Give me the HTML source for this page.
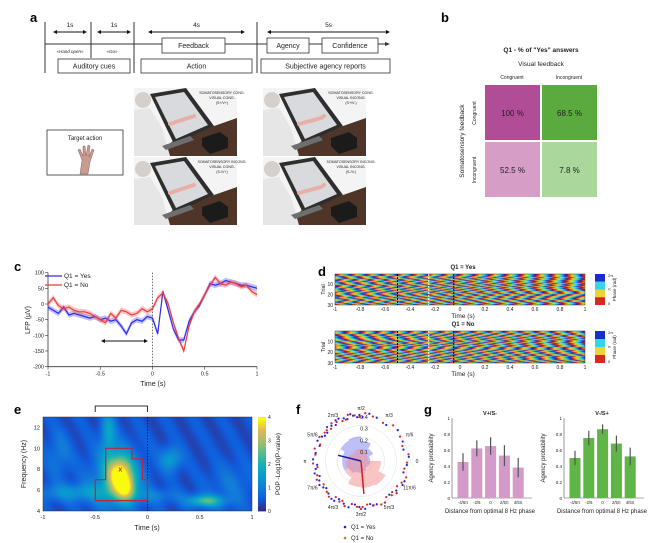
<!DOCTYPE html>
<html><head><meta charset="utf-8">
<style>
body{margin:0;background:#fff;}
#root{position:relative;width:660px;height:543px;overflow:hidden;font-family:"Liberation Sans",sans-serif;}
svg{position:absolute;left:0;top:0;}
canvas{position:absolute;}
text{font-family:"Liberation Sans",sans-serif;}
</style></head>
<body>
<div id="root">
<canvas id="rasterYes" width="250" height="31" style="left:335px;top:274px;width:250px;height:31px"></canvas>
<canvas id="rasterNo" width="250" height="32" style="left:335px;top:331px;width:250px;height:32px"></canvas>
<canvas id="heat" width="209" height="94" style="left:43px;top:417px;width:209px;height:94px"></canvas>
<svg id="fig" width="660" height="543" viewBox="0 0 660 543"></svg>
</div>
<script>
// ---------- data ----------
const lfpTimes=[-1,-0.95,-0.9,-0.85,-0.8,-0.75,-0.7,-0.65,-0.6,-0.55,-0.5,-0.45,-0.4,-0.35,-0.3,-0.25,-0.2,-0.15,-0.1,-0.05,0,0.05,0.1,0.15,0.2,0.25,0.3,0.35,0.4,0.45,0.5,0.55,0.6,0.65,0.7,0.75,0.8,0.85,0.9,0.95,1];
const lfpYes=[-10,-20,-30,-10,-35,-30,-35,-40,-45,-40,-50,-45,-55,-50,-70,-95,-60,-50,-55,-40,-45,-95,40,-20,-80,-115,-115,-55,-25,-5,30,65,60,65,75,70,65,60,60,55,50];
const lfpNo=[0,20,-5,-15,-10,-20,-25,-25,-30,-40,-50,-60,-30,-45,-20,-25,-35,-30,-15,-25,-15,20,35,0,-60,-110,-150,-70,-25,0,30,60,85,65,60,70,65,55,60,40,30];
const lfpTicksX=[-1,-0.5,0,0.5,1];
const lfpTicksY=[100,50,0,-50,-100,-150,-200];
const trialOffsetsYes=[0.3,2.1,4.0,1.2,5.5,3.3,0.8,2.9,4.6,1.7,6.0,3.8,0.5,2.4,5.1,1.0,3.6,4.9,2.2,0.1,5.8,3.0,1.5,4.3,2.7,0.9,5.3,3.9,1.9,4.5];
const trialOffsetsNo=[1.1,3.4,5.2,0.4,2.6,4.8,1.9,3.1,0.7,5.6,2.3,4.1,0.2,3.7,5.9,1.4,2.9,4.4,0.9,3.3,5.0,1.6,2.5,4.7,0.6,3.9,5.4,2.0,1.3,4.2];
const trialDriftYes=[0.5,-0.8,1.2,-0.3,0.9,-1.1,0.4,-0.6,1.0,-0.2,0.7,-0.9,0.3,-0.5,1.1,-0.7,0.2,-1.0,0.8,-0.4,0.6,-0.8,1.2,-0.1,0.5,-0.6,0.9,-0.3,0.4,-1.0];
const trialDriftNo=[-0.6,0.9,-0.2,1.1,-0.8,0.4,-1.0,0.7,-0.3,0.5,-0.9,1.2,-0.4,0.6,-0.7,0.3,-1.1,0.8,-0.5,1.0,-0.2,0.6,-0.9,0.4,-0.6,1.1,-0.3,0.7,-0.8,0.2];
const heatBlobT=[-0.27,-0.2,-0.3,-0.38,0.55,0.22,-0.7,0.05,-0.85,0.8];
const heatBlobF=[7.5,6.2,7.2,11.5,5.0,9.0,5.8,5.5,9.5,6.5];
const heatBlobSt=[0.08,0.06,0.16,0.05,0.12,0.07,0.25,0.2,0.08,0.15];
const heatBlobSf=[1.2,0.8,2.0,1.6,0.4,0.8,0.6,0.5,1.5,1.5];
const heatBlobA=[0.75,0.45,0.35,0.3,0.5,0.3,0.25,0.15,0.15,0.12];
const roseBins=[15,45,75,105,135,165,195,225,255,285,315,345];
const roseYes=[0.08,0.12,0.17,0.21,0.2,0.16,0.16,0.12,0.1,0.09,0.07,0.08];
const roseNo=[0.06,0.07,0.1,0.1,0.09,0.11,0.13,0.16,0.22,0.23,0.24,0.17];
const meanYesAngle=166, meanYesLen=0.2;
const meanNoAngle=275, meanNoLen=0.28;
const dotsYes=[95,100,103,108,112,118,125,130,135,140,148,155,160,170,178,185,190,195,200,205,210,218,225,232,240,248,255,262,268,275,282,290,300,310,320,335,345,355,5,15,25,40,55,70,80,88,92,122,145,215,236,258,285,330];
const dotsNo=[92,98,106,115,122,128,133,142,150,158,172,183,188,198,203,212,222,228,235,242,250,258,265,270,278,286,295,305,312,318,325,332,340,350,358,8,20,32,48,60,75,85,110,138,165,245,272,300,315];
const gCats=["-4/5π","-2/5","0","2/5π","4/5π"];
const gLeftVals=[0.45,0.62,0.65,0.53,0.38];
const gLeftErr=[0.11,0.10,0.11,0.13,0.12];
const gRightVals=[0.50,0.75,0.86,0.68,0.52];
const gRightErr=[0.09,0.09,0.06,0.10,0.11];
const gTicksY=[0,0.2,0.4,0.6,0.8,1];
const bVals=[["100 %","68.5 %"],["52.5 %","7.8 %"]];

// ---------- helpers ----------
const NS="http://www.w3.org/2000/svg";
const svg=document.getElementById('fig');
function el(tag,attrs,parent){const e=document.createElementNS(NS,tag);for(const k in attrs)e.setAttribute(k,attrs[k]);(parent||svg).appendChild(e);return e;}
function txt(x,y,s,size,attrs,parent){const t=el('text',Object.assign({x:x,y:y,'font-size':size,fill:'#222'},attrs||{}),parent);t.textContent=s;return t;}

// ---------- panel letters ----------
[["a",30,22],["b",441,22],["c",14,271],["d",318,276],["e",14,414],["f",296,414],["g",424,414]].forEach(p=>{
 const t=txt(p[1],p[2],p[0],13,{'font-weight':'bold',fill:'#000'});
 
});

// ---------- panel a timeline ----------
const ga=el('g',{});
el('line',{x1:45,y1:44,x2:386,y2:44,stroke:'#333','stroke-width':1},ga);
el('path',{d:'M390 44 L385 42 L385 46 Z',fill:'#333'},ga);
[[45,22,73],[91,22,58],[134,22,73],[257,22,73]].forEach(v=>el('line',{x1:v[0],y1:v[1],x2:v[0],y2:v[2],stroke:'#333','stroke-width':1},ga));
[[53,87,"1s"],[97,131,"1s"],[148,245,"4s"],[267,390,"5s"]].forEach(a=>{
 el('line',{x1:a[0]+3,y1:32,x2:a[1]-3,y2:32,stroke:'#111','stroke-width':1},ga);
 el('path',{d:`M${a[0]} 32 L${a[0]+4} 30 L${a[0]+4} 34 Z`,fill:'#111'},ga);
 el('path',{d:`M${a[1]} 32 L${a[1]-4} 30 L${a[1]-4} 34 Z`,fill:'#111'},ga);
 txt((a[0]+a[1])/2,27,a[2],6.5,{'text-anchor':'middle'},ga);
});
[[162,38,225,53,"Feedback","feedback-box"],[267,38,309,53,"Agency","agency-box"],[322,38,378,53,"Confidence","confidence-box"],
 [58,59,130,73,"Auditory cues","auditory-cues-box"],[141,59,252,73,"Action","action-box"],[261,59,390,73,"Subjective agency reports","subjective-reports-box"]].forEach(b=>{
 const r=el('rect',{x:b[0],y:b[1],width:b[2]-b[0],height:b[3]-b[1],fill:'#fff',stroke:'#333','stroke-width':0.8},ga);
 
 txt((b[0]+b[2])/2,(b[1]+b[3])/2+2.5,b[4],7,{'text-anchor':'middle'},ga);
});
txt(70,53,"«Hand open»",4.5,{'text-anchor':'middle','font-style':'italic'},ga);
txt(112,53,"«Go»",4.5,{'text-anchor':'middle','font-style':'italic'},ga);

// target action box
const tb=el('rect',{x:47,y:130,width:76,height:45,fill:'#fff',stroke:'#333','stroke-width':0.8});

txt(85,140,"Target action",6,{'text-anchor':'middle'});
el('path',{d:'M80 174 L82 160 L78 150 L80 149 L83 156 L83 146 L85 146 L86 156 L88 145 L90 146 L89 157 L92 149 L94 150 L90 162 L88 174 Z',fill:'#c99a8f',stroke:'#7a4a44','stroke-width':0.4});

// scenes
const scenes=[[134,88,"SOMATOSENSORY CONG.","VISUAL CONG.","(S+/V+)",1],[263,88,"SOMATOSENSORY CONG.","VISUAL INCONG.","(S+/V-)",0],
 [134,157,"SOMATOSENSORY INCONG.","VISUAL CONG.","(S-/V+)",1],[263,157,"SOMATOSENSORY INCONG.","VISUAL INCONG.","(S-/V-)",0]];
scenes.forEach((s,i)=>{
 const g=el('g',{transform:`translate(${s[0]},${s[1]})`});
 
 el('rect',{x:0,y:0,width:103,height:68,fill:'#f4f4f4'},g);
 el('polygon',{points:'22,68 40,52 103,30 103,68',fill:'#4e3527'},g);
 el('polygon',{points:'0,22 16,20 28,40 36,68 0,68',fill:'#e6e6e6'},g);
 el('circle',{cx:9,cy:12,r:8,fill:'#d4d0ce'},g);
 el('polygon',{points:'16,6 52,0 80,38 40,56',fill:'#2e2e2e'},g);
 el('polygon',{points:'21,9 50,4 74,37 42,51',fill:'#d9dadd'},g);
 if(s[5]) el('path',{d:'M36 36 L60 28',stroke:'#e7b0a6','stroke-width':4,'stroke-linecap':'round'},g);
 else el('path',{d:'M36 36 L58 30 M58 30 l3 -2',stroke:'#e7b0a6','stroke-width':4,'stroke-linecap':'round'},g);
 el('polygon',{points:'28,58 56,48 60,52 32,62',fill:'#6e6e6e'},g);
 el('polygon',{points:'68,50 86,44 94,50 94,60 76,66 68,58',fill:'#1b1b1b'},g);
 txt(88,6,s[2],3.6,{'text-anchor':'middle'},g);
 txt(88,11,s[3],3.6,{'text-anchor':'middle'},g);
 txt(88,16,s[4],3.6,{'text-anchor':'middle'},g);
});

// ---------- panel b ----------
txt(541,52,'Q1 - % of "Yes" answers',6.5,{'text-anchor':'middle','font-weight':'bold'});
txt(541,66,'Visual feedback',6.5,{'text-anchor':'middle'});
txt(512,79,'Congruent',5,{'text-anchor':'middle'});
txt(569,79,'Incongruent',5,{'text-anchor':'middle'});
txt(464,141,'Somatosensory feedback',6.5,{'text-anchor':'middle',transform:'rotate(-90 464 141)'});
txt(476,113,'Congruent',5,{'text-anchor':'middle',transform:'rotate(-90 476 113)'});
txt(476,170,'Incongruent',5,{'text-anchor':'middle',transform:'rotate(-90 476 170)'});
const bCols=['#b14d96','#5aaa3e','#d69dc7','#a9d89a'];
for(let r=0;r<2;r++)for(let c=0;c<2;c++){
 const x=485+c*57,y=85+r*57;
 const rc=el('rect',{x:x,y:y,width:55,height:55,fill:bCols[r*2+c]});
 
 txt(x+27.5,y+31,bVals[r][c],8,{'text-anchor':'middle',fill:'#222'});
}

// ---------- panel c ----------
const xc=t=>48+(t+1)/2*209, yc=v=>304-v*94/300;
const gc=el('g',{});
el('line',{x1:48,y1:yc(100),x2:48,y2:yc(-200),stroke:'#333','stroke-width':0.8},gc);
el('line',{x1:48,y1:yc(-200),x2:257,y2:yc(-200),stroke:'#333','stroke-width':0.8},gc);
lfpTicksY.forEach(v=>{el('line',{x1:45,y1:yc(v),x2:48,y2:yc(v),stroke:'#333','stroke-width':0.6},gc);txt(44,yc(v)+2,String(v),5.5,{'text-anchor':'end'},gc);});
lfpTicksX.forEach(v=>{el('line',{x1:xc(v),y1:yc(-200),x2:xc(v),y2:yc(-200)+3,stroke:'#333','stroke-width':0.6},gc);txt(xc(v),yc(-200)+9,String(v),5.5,{'text-anchor':'middle'},gc);});
txt(153,386,'Time (s)',7,{'text-anchor':'middle'},gc);
txt(30,320,'LFP (µV)',7,{'text-anchor':'middle',transform:'rotate(-90 30 320)'},gc);
el('line',{x1:xc(0),y1:yc(100),x2:xc(0),y2:yc(-200),stroke:'#333','stroke-width':0.7,'stroke-dasharray':'1.5,1.5'},gc);
function series(vals,col,name){
 let up='',dn='',ln='';
 vals.forEach((v,i)=>{ln+=(i?'L':'M')+xc(lfpTimes[i]).toFixed(1)+' '+yc(v).toFixed(1);up+=(i?'L':'M')+xc(lfpTimes[i]).toFixed(1)+' '+yc(v+9).toFixed(1);});
 for(let i=vals.length-1;i>=0;i--)dn+='L'+xc(lfpTimes[i]).toFixed(1)+' '+yc(vals[i]-9).toFixed(1);
 const b=el('path',{d:up+dn+'Z',fill:col,opacity:0.3},gc);
 
 const l=el('path',{d:ln,fill:'none',stroke:col,'stroke-width':1.2},gc);
 
}
series(lfpYes,'#2b2bea','q1-yes');series(lfpNo,'#ee3b3b','q1-no');
el('line',{x1:45,y1:276,x2:62,y2:276,stroke:'#2b2bea','stroke-width':1.2},gc);txt(64,278,'Q1 = Yes',6.5,{},gc);
el('line',{x1:45,y1:285,x2:62,y2:285,stroke:'#ee3b3b','stroke-width':1.2},gc);txt(64,287,'Q1 = No',6.5,{},gc);
el('line',{x1:104,y1:341,x2:145,y2:341,stroke:'#111','stroke-width':1},gc);
el('path',{d:'M101 341 L105 339 L105 343 Z M148 341 L144 339 L144 343 Z',fill:'#111'},gc);

// ---------- panel d ----------
function phaseColor(p){
 const u=((p%(2*Math.PI))+2*Math.PI)%(2*Math.PI)/(2*Math.PI);
 const st=[[0,[200,20,20]],[0.12,[240,60,20]],[0.3,[240,220,30]],[0.45,[150,220,80]],[0.6,[40,220,230]],[0.75,[30,120,240]],[0.9,[20,30,200]],[1,[200,20,20]]];
 for(let i=0;i<st.length-1;i++)if(u<=st[i+1][0]){const f=(u-st[i][0])/(st[i+1][0]-st[i][0]);return st[i][1].map((c,k)=>Math.round(c+(st[i+1][1][k]-c)*f));}
 return st[0][1];
}
function drawRaster(id,offs,drifts){
 const cv=document.getElementById(id),ctx=cv.getContext('2d');const W=cv.width,H=cv.height;
 const img=ctx.createImageData(W,H);
 for(let y=0;y<H;y++){const tr=Math.min(29,Math.floor(y/H*30));
  for(let x=0;x<W;x++){const t=-1+2*x/W;const p=2*Math.PI*8*t+offs[tr]+drifts[tr]*t*1.5;const c=phaseColor(p);const k=(y*W+x)*4;img.data[k]=c[0];img.data[k+1]=c[1];img.data[k+2]=c[2];img.data[k+3]=255;}}
 ctx.putImageData(img,0,0);
}
drawRaster('rasterYes',trialOffsetsYes,trialDriftYes);drawRaster('rasterNo',trialOffsetsNo,trialDriftNo);
const xd=t=>335+(t+1)/2*250;
[[274,305,269,'Q1 = Yes','yes'],[331,363,326,'Q1 = No','no']].forEach(r=>{
 const g=el('g',{});
 txt(463,r[2],r[3],6,{'text-anchor':'middle','font-weight':'bold'},g);
 el('rect',{x:335,y:r[0],width:250,height:r[1]-r[0],fill:'none',stroke:'#333','stroke-width':0.5},g);
 [-1,-0.8,-0.6,-0.4,-0.2,0,0.2,0.4,0.6,0.8,1].forEach(v=>txt(xd(v),r[1]+6,String(v),5,{'text-anchor':'middle'},g));
 txt(463,r[1]+13,'Time (s)',6.5,{'text-anchor':'middle'},g);
 [[10,0.33],[20,0.66],[30,1]].forEach(q=>txt(333,r[0]+(r[1]-r[0])*q[1]+2,String(q[0]),5,{'text-anchor':'end'},g));
 txt(325,(r[0]+r[1])/2,'Trial',5.5,{'text-anchor':'middle',transform:`rotate(-90 325 ${(r[0]+r[1])/2})`},g);
 el('line',{x1:xd(-0.5),y1:r[0],x2:xd(-0.5),y2:r[1],stroke:'#000','stroke-width':1,'stroke-dasharray':'2,1'},g);
 el('line',{x1:xd(-0.05),y1:r[0],x2:xd(-0.05),y2:r[1],stroke:'#000','stroke-width':1,'stroke-dasharray':'2,1'},g);
 el('line',{x1:xd(-0.25),y1:r[0],x2:xd(-0.25),y2:r[1],stroke:'#fff','stroke-width':1,'stroke-dasharray':'2,1'},g);
 const h=r[1]-r[0];
 [['#1a2bd0',0],['#39d4e6',0.25],['#eed332',0.5],['#d42a1e',0.75]].forEach(c=>el('rect',{x:595,y:r[0]+h*c[1],width:10,height:h/4,fill:c[0]},g));
 txt(608,r[0]+3,'2π',4,{},g);txt(608,r[0]+h/2+1,'π',4,{},g);txt(608,r[1],'0',4,{},g);
 txt(616,(r[0]+r[1])/2,'Phase (rad)',4.5,{'text-anchor':'middle',transform:`rotate(-90 616 ${(r[0]+r[1])/2})`},g);
});

// ---------- panel e ----------
const parula=[[53,42,135],[15,92,221],[18,125,216],[7,156,207],[21,177,180],[89,189,140],[165,190,107],[225,185,82],[249,251,14]];
function parC(u){u=Math.max(0,Math.min(1,u))*8;const i=Math.min(7,Math.floor(u)),f=u-i;return parula[i].map((c,k)=>Math.round(c+(parula[i+1][k]-c)*f));}
(function(){
 const cv=document.getElementById('heat'),ctx=cv.getContext('2d');const W=cv.width,H=cv.height;const img=ctx.createImageData(W,H);
 for(let y=0;y<H;y++)for(let x=0;x<W;x++){
  const t=-1+2*x/W,f=13-9*y/H;let v=0.1+0.04*Math.sin(t*23+f*1.3);
  for(let b=0;b<heatBlobT.length;b++){v+=heatBlobA[b]*Math.exp(-((t-heatBlobT[b])**2)/(2*heatBlobSt[b]**2)-((f-heatBlobF[b])**2)/(2*heatBlobSf[b]**2));}
  const c=parC(v);const k=(y*W+x)*4;img.data[k]=c[0];img.data[k+1]=c[1];img.data[k+2]=c[2];img.data[k+3]=255;}
 ctx.putImageData(img,0,0);
})();
const xe=t=>43+(t+1)/2*209, ye=f=>511-(f-4)*94/9;
const ge=el('g',{});
el('rect',{x:43,y:417,width:209,height:94,fill:'none',stroke:'#333','stroke-width':0.5},ge);
[-1,-0.5,0,0.5,1].forEach(v=>txt(xe(v),519,String(v),5.5,{'text-anchor':'middle'},ge));
[4,6,8,10,12].forEach(v=>txt(40,ye(v)+2,String(v),5.5,{'text-anchor':'end'},ge));
txt(147,530,'Time (s)',7,{'text-anchor':'middle'},ge);
txt(26,464,'Frequency (Hz)',7,{'text-anchor':'middle',transform:'rotate(-90 26 464)'},ge);
el('line',{x1:xe(0),y1:417,x2:xe(0),y2:511,stroke:'#111','stroke-width':0.7,'stroke-dasharray':'1.5,1.5'},ge);
el('path',{d:`M${xe(-0.5)} 412 L${xe(-0.5)} 406 L${xe(0)} 406 L${xe(0)} 412`,fill:'none',stroke:'#333','stroke-width':1},ge);
const contour=[[-0.5,5],[-0.5,7],[-0.4,7],[-0.4,10],[-0.15,10],[-0.15,9],[-0.05,9],[-0.05,7],[0,7],[0,5]];
const cp=el('polygon',{points:contour.map(p=>xe(p[0]).toFixed(1)+','+ye(p[1]).toFixed(1)).join(' '),fill:'none',stroke:'#c0233a','stroke-width':1.2},ge);

txt(xe(-0.26),ye(8)+2.5,'x',7,{'text-anchor':'middle',fill:'#d9221a','font-weight':'bold'},ge);
for(let i=0;i<40;i++){const c=parC(i/39);el('rect',{x:258,y:511-(i+1)*94/40,width:8,height:94/40+0.4,fill:`rgb(${c})`},ge);}
[0,1,2,3,4].forEach(v=>txt(268,511-v*94/4+2,String(v),5,{},ge));
txt(280,464,'POP -Log10(P-value)',6.5,{'text-anchor':'middle',transform:'rotate(-90 280 464)'},ge);

// ---------- panel f ----------
const cx=361,cy=461,rr=v=>v*118;
const gf=el('g',{});
[0.1,0.2,0.3,0.4].forEach(v=>el('circle',{cx:cx,cy:cy,r:rr(v),fill:'none',stroke:'#ddd','stroke-width':0.5},gf));
function wedge(ang,v,col,name){
 const a0=(ang-15)*Math.PI/180,a1=(ang+15)*Math.PI/180,r=rr(v);
 const p=el('path',{d:`M${cx} ${cy} L${cx+r*Math.cos(a0)} ${cy-r*Math.sin(a0)} A${r} ${r} 0 0 0 ${cx+r*Math.cos(a1)} ${cy-r*Math.sin(a1)} Z`,fill:col,opacity:0.5},gf);
 
}
roseBins.forEach((a,i)=>wedge(a,roseYes[i],'#7d7ff0','rose-yes-bin'));
roseBins.forEach((a,i)=>wedge(a,roseNo[i],'#f48a8a','rose-no-bin'));
[["0",0],["π/6",30],["π/3",60],["π/2",90],["2π/3",120],["5π/6",150],["π",180],["7π/6",210],["4π/3",240],["3π/2",270],["5π/3",300],["11π/6",330]].forEach(l=>{
 const a=l[1]*Math.PI/180;txt(cx+56*Math.cos(a),cy-53*Math.sin(a)+2,l[0],5,{'text-anchor':'middle'},gf);});
[0.1,0.2,0.3,0.4].forEach(v=>txt(cx+3,cy-rr(v)+5,String(v),5.5,{'text-anchor':'middle'},gf));
function dots(arr,col,name){arr.forEach((a,i)=>{const r=44+(i%3)*2,t=a*Math.PI/180;
 const c=el('circle',{cx:cx+r*Math.cos(t),cy:cy-r*Math.sin(t),r:1.1,fill:col},gf);
 });}
dots(dotsYes,'#2222dd','phase-dot-yes');dots(dotsNo,'#e02525','phase-dot-no');
function vec(a,l,col,name){const t=a*Math.PI/180;const v=el('line',{x1:cx,y1:cy,x2:cx+rr(l)*Math.cos(t),y2:cy-rr(l)*Math.sin(t),stroke:col,'stroke-width':1.5},gf);}
vec(meanYesAngle,meanYesLen,'#1a1a9a','mean-vector-yes');vec(meanNoAngle,meanNoLen,'#dd1b1b','mean-vector-no');
el('circle',{cx:345,cy:527,r:1.3,fill:'#2222dd'},gf);txt(351,529,'Q1 = Yes',6,{},gf);
el('circle',{cx:345,cy:538,r:1.3,fill:'#e07020'},gf);txt(351,540,'Q1 = No',6,{},gf);

// ---------- panel g ----------
function barChart(x0,vals,errs,col,title,name){
 const g=el('g',{});
 const y0=498,h=80,yg=v=>y0-v*h,xb=i=>x0+11+i*13.8;
 el('line',{x1:x0,y1:yg(1),x2:x0,y2:y0,stroke:'#555','stroke-width':0.6},g);
 el('line',{x1:x0,y1:y0,x2:x0+80,y2:y0,stroke:'#555','stroke-width':0.6},g);
 gTicksY.forEach(v=>txt(x0-2,yg(v)+2,String(v),4.5,{'text-anchor':'end'},g));
 txt(x0+38,415,title,5.5,{'text-anchor':'middle','font-weight':'bold'},g);
 vals.forEach((v,i)=>{
  const b=el('rect',{x:xb(i)-5.5,y:yg(v),width:11,height:v*h,fill:col},g);
  
  el('line',{x1:xb(i),y1:yg(v+errs[i]),x2:xb(i),y2:yg(v-errs[i]),stroke:'#555','stroke-width':1.2},g);
  txt(xb(i),504,gCats[i],4.2,{'text-anchor':'middle'},g);
 });
 txt(x0+38,513,'Distance from optimal 8 Hz phase',6,{'text-anchor':'middle'},g);
 txt(x0-19,458,'Agency probability',6,{'text-anchor':'middle',transform:`rotate(-90 ${x0-19} 458)`},g);
}
barChart(452,gLeftVals,gLeftErr,'#d49ac9','V+/S-','bar-chart-v-plus-s-minus');
barChart(564,gRightVals,gRightErr,'#5fb546','V-/S+','bar-chart-v-minus-s-plus');
</script>
</body></html>
